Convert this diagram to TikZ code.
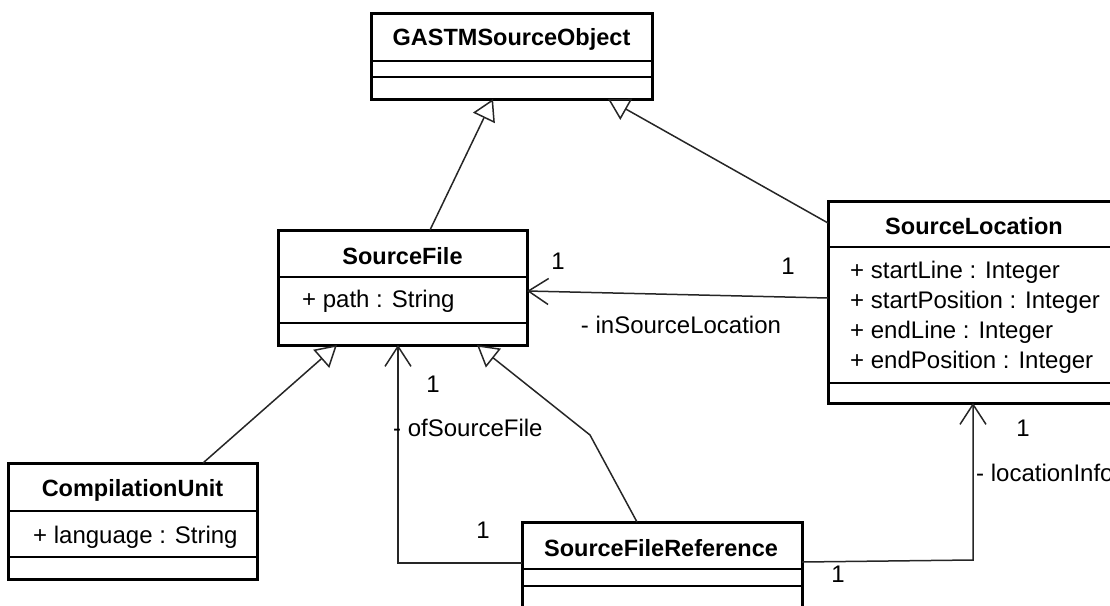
\documentclass[tikz,border=0pt]{standalone}
\usepackage{fontspec}
\setmainfont{Liberation Sans}
\usetikzlibrary{arrows.meta}

\tikzset{
  classbox/.style={draw=black, line width=3pt, rectangle, inner sep=0pt, outer sep=0pt, anchor=north west},
  divider/.style={draw=black, line width=1.4pt},
  ctitle/.style={inner sep=0pt, font=\fontsize{23.5}{27}\selectfont\bfseries},
  attr/.style={inner sep=0pt, anchor=west, font=\fontsize{24}{28}\selectfont},
  lbl/.style={inner sep=0pt, font=\fontsize{24}{28}\selectfont},
  gen/.style={draw=black!85, line width=1.5pt, -{Triangle[open, length=21pt, width=24pt]}},
  assoc/.style={draw=black!85, line width=1.5pt, -{Straight Barb[length=20pt, width=26pt]}}
}

\begin{document}
\begin{tikzpicture}[x=1pt, y=-1pt]
  \useasboundingbox (0,0) rectangle (1110,605);
  \clip (0,0) rectangle (1110,605);

  % classes
  \node[classbox, minimum width=281pt, minimum height=86pt] (gast) at (371,13) {};
  \draw[divider] (gast.west |- 0,61) -- (gast.east |- 0,61);
  \draw[divider] (gast.west |- 0,77) -- (gast.east |- 0,77);
  \node[ctitle] (gastT) at (511.5,39) {GASTMSourceObject};

  \node[classbox, minimum width=249pt, minimum height=115pt] (sf) at (278,230) {};
  \draw[divider] (sf.west |- 0,277) -- (sf.east |- 0,277);
  \draw[divider] (sf.west |- 0,323) -- (sf.east |- 0,323);
  \node[ctitle] (sfT) at (402.5,256) {SourceFile};
  \node[attr] (sfA) at (302,301) {+ path : String};

  \node[classbox, minimum width=292pt, minimum height=202pt] (sl) at (828,201) {};
  \draw[divider] (sl.west |- 0,247) -- (sl.east |- 0,247);
  \draw[divider] (sl.west |- 0,383) -- (sl.east |- 0,383);
  \node[ctitle] (slT) at (974,226) {SourceLocation};
  \node[attr] (slA1) at (850,272) {+ startLine : Integer};
  \node[attr] (slA2) at (850,302) {+ startPosition : Integer};
  \node[attr] (slA3) at (850,332) {+ endLine : Integer};
  \node[attr] (slA4) at (850,362) {+ endPosition : Integer};

  \node[classbox, minimum width=249pt, minimum height=116pt] (cu) at (8,463) {};
  \draw[divider] (cu.west |- 0,511) -- (cu.east |- 0,511);
  \draw[divider] (cu.west |- 0,557) -- (cu.east |- 0,557);
  \node[ctitle] (cuT) at (132.5,490) {CompilationUnit};
  \node[attr] (cuA) at (33,537) {+ language : String};

  \node[classbox, minimum width=280pt, minimum height=96pt] (sfr) at (522,522) {};
  \draw[divider] (sfr.west |- 0,569) -- (sfr.east |- 0,569);
  \draw[divider] (sfr.west |- 0,586) -- (sfr.east |- 0,586);
  \node[ctitle] (sfrT) at (661,548) {SourceFileReference};

  % generalizations
  \draw[gen] (sf.north -| 430,0) -- (gast.south -| 493,0);
  \draw[gen] (sl.west |- 0,223) -- (gast.south -| 608,0);
  \draw[gen] (cu.north -| 203,0) -- (sf.south -| 337,0);
  \draw[gen] (sfr.north -| 637,0) -- (590,435) -- (sf.south -| 477,0);

  % associations
  \draw[assoc] (sl.west |- 0,298) -- (sf.east |- 0,291);
  \draw[assoc] (sfr.west |- 0,563) -| (sf.south -| 398,0);
  \draw[assoc] (sfr.east |- 0,562) -- (973,560) -- (sl.south -| 973,0);

  % association labels
  \node[lbl] (m1) at (558,261) {1};
  \node[lbl] (m2) at (788,266) {1};
  \node[lbl] (r1) at (681,325) {- inSourceLocation};
  \node[lbl] (m3) at (433,384) {1};
  \node[lbl, anchor=west] (r2) at (393,428) {- ofSourceFile};
  \node[lbl] (m4) at (483,530) {1};
  \node[lbl] (m5) at (1023,428) {1};
  \node[lbl, anchor=west] (r3) at (976,473) {- locationInfo};
  \node[lbl] (m6) at (838,574) {1};
\end{tikzpicture}
\end{document}
